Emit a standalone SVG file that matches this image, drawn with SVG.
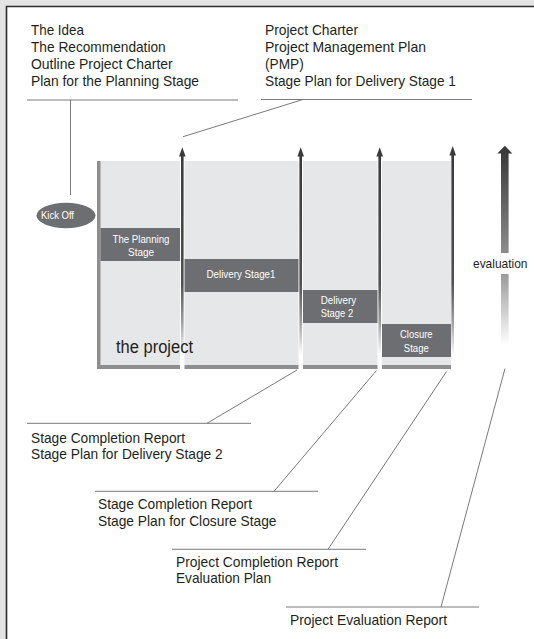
<svg xmlns="http://www.w3.org/2000/svg" width="534" height="639" viewBox="0 0 534 639">
<style>
.t{font-family:"Liberation Sans",Arial,sans-serif;font-size:15px;fill:#231f20}
.w{font-family:"Liberation Sans",Arial,sans-serif;font-size:11px;fill:#ffffff}
.ln{stroke:#7a7a7a;stroke-width:1;fill:none}
.box{fill:#6d6e71}
</style>
<defs>
<linearGradient id="shaft" x1="0" y1="0" x2="0" y2="1">
<stop offset="0" stop-color="#3a3a3a"/>
<stop offset="0.6" stop-color="#505050"/>
<stop offset="0.78" stop-color="#a0a0a0"/>
<stop offset="0.93" stop-color="#ffffff"/>
</linearGradient>
<linearGradient id="evtop" x1="0" y1="0" x2="0" y2="1">
<stop offset="0" stop-color="#3a3a3a"/>
<stop offset="1" stop-color="#8c8c8c"/>
</linearGradient>
<linearGradient id="evbot" x1="0" y1="0" x2="0" y2="1">
<stop offset="0" stop-color="#9a9a9a"/>
<stop offset="1" stop-color="#ffffff"/>
</linearGradient>
</defs>

<rect x="0" y="0" width="534" height="639" fill="#e3e3e3"/>
<rect x="6" y="6" width="528" height="633" fill="#ffffff"/>
<path d="M6.5 639 V6.5 H534" stroke="#2b2b2b" stroke-width="1.6" fill="none"/>

<g id="project">
<rect x="97" y="161" width="355" height="208" fill="#e6e7e8"/>
<rect x="97" y="161" width="3.5" height="208" fill="#8e8e8e"/>
<rect x="97" y="365" width="355" height="4" fill="#8e8e8e"/>
</g>

<g id="planning-stage">
<rect class="box" x="100.5" y="228" width="80" height="33"/>
<text class="w" x="141" y="243.3" text-anchor="middle" textLength="57" lengthAdjust="spacingAndGlyphs">The Planning</text>
<text class="w" x="141" y="256" text-anchor="middle" textLength="26" lengthAdjust="spacingAndGlyphs">Stage</text>
</g>

<g id="delivery-stage-1">
<rect class="box" x="184" y="259" width="115" height="33"/>
<text class="w" x="241" y="278.3" text-anchor="middle" textLength="69" lengthAdjust="spacingAndGlyphs">Delivery Stage1</text>
</g>

<g id="delivery-stage-2">
<rect class="box" x="302" y="290" width="76" height="33"/>
<text class="w" x="320.7" y="303.5" textLength="35.5" lengthAdjust="spacingAndGlyphs">Delivery</text>
<text class="w" x="320.7" y="317" textLength="32.5" lengthAdjust="spacingAndGlyphs">Stage 2</text>
</g>

<g id="closure-stage">
<rect class="box" x="381" y="324" width="70.5" height="33"/>
<text class="w" x="416.3" y="337.5" text-anchor="middle" textLength="32.5" lengthAdjust="spacingAndGlyphs">Closure</text>
<text class="w" x="416.3" y="352" text-anchor="middle" textLength="25" lengthAdjust="spacingAndGlyphs">Stage</text>
</g>

<g id="kick-off">
<ellipse cx="66" cy="215.5" rx="29.5" ry="12.7" fill="#6d6e71"/>
<text class="w" x="41" y="219.4" textLength="33" lengthAdjust="spacingAndGlyphs">Kick Off</text>
</g>

<g id="milestone-arrows">
<rect x="180" y="161" width="4.5" height="209" fill="#ffffff"/>
<rect x="181" y="155" width="2.6" height="215" fill="url(#shaft)"/>
<path d="M182.3 147.3 L185.6 156.5 L179 156.5 Z" fill="#3a3a3a"/>

<rect x="298.5" y="161" width="4.5" height="209" fill="#ffffff"/>
<rect x="299.4" y="155" width="2.6" height="215" fill="url(#shaft)"/>
<path d="M300.7 147.3 L304 156.5 L297.4 156.5 Z" fill="#3a3a3a"/>

<rect x="377.5" y="161" width="4.5" height="209" fill="#ffffff"/>
<rect x="378.4" y="155" width="2.6" height="215" fill="url(#shaft)"/>
<path d="M379.7 147.3 L383 156.5 L376.4 156.5 Z" fill="#3a3a3a"/>

<rect x="451" y="161" width="4" height="209" fill="#ffffff"/>
<rect x="451.4" y="154" width="2.6" height="216" fill="url(#shaft)"/>
<path d="M452.7 146 L456 155.5 L449.4 155.5 Z" fill="#3a3a3a"/>
</g>

<g id="project-label">
<text x="116" y="352.7" style="font-family:'Liberation Sans',Arial,sans-serif;font-size:18px;fill:#231f20" textLength="77" lengthAdjust="spacingAndGlyphs">the project</text>
</g>

<g id="evaluation">
<rect x="501" y="152" width="7.6" height="101" fill="url(#evtop)"/>
<path d="M504.8 145.7 L512.3 153.5 L497.3 153.5 Z" fill="#3a3a3a"/>
<rect x="501" y="274" width="7.6" height="71" fill="url(#evbot)"/>
<text x="473" y="267.5" style="font-family:'Liberation Sans',Arial,sans-serif;font-size:13.5px;fill:#231f20" textLength="54.5" lengthAdjust="spacingAndGlyphs">evaluation</text>
</g>

<g id="label-start">
<text class="t" x="31" y="35" textLength="53" lengthAdjust="spacingAndGlyphs">The Idea</text>
<text class="t" x="31" y="52" textLength="134.7" lengthAdjust="spacingAndGlyphs">The Recommendation</text>
<text class="t" x="31" y="69" textLength="141.7" lengthAdjust="spacingAndGlyphs">Outline Project Charter</text>
<text class="t" x="31" y="86" textLength="168" lengthAdjust="spacingAndGlyphs">Plan for the Planning Stage</text>
</g>

<g id="label-planning-end">
<text class="t" x="265" y="34.5" textLength="93" lengthAdjust="spacingAndGlyphs">Project Charter</text>
<text class="t" x="265" y="51.5" textLength="161" lengthAdjust="spacingAndGlyphs">Project Management Plan</text>
<text class="t" x="265" y="68.5" textLength="38.7" lengthAdjust="spacingAndGlyphs">(PMP)</text>
<text class="t" x="265" y="85.5" textLength="191" lengthAdjust="spacingAndGlyphs">Stage Plan for Delivery Stage 1</text>
</g>

<g id="label-delivery1-end">
<text class="t" x="31" y="442.7" textLength="154" lengthAdjust="spacingAndGlyphs">Stage Completion Report</text>
<text class="t" x="31" y="459.3" textLength="191.7" lengthAdjust="spacingAndGlyphs">Stage Plan for Delivery Stage 2</text>
</g>

<g id="label-delivery2-end">
<text class="t" x="98" y="509.3" textLength="154" lengthAdjust="spacingAndGlyphs">Stage Completion Report</text>
<text class="t" x="98" y="525.5" textLength="178.5" lengthAdjust="spacingAndGlyphs">Stage Plan for Closure Stage</text>
</g>

<g id="label-closure-end">
<text class="t" x="176" y="566.7" textLength="162" lengthAdjust="spacingAndGlyphs">Project Completion Report</text>
<text class="t" x="176" y="583.3" textLength="95" lengthAdjust="spacingAndGlyphs">Evaluation Plan</text>
</g>

<g id="label-evaluation-end">
<text class="t" x="290" y="625" textLength="157" lengthAdjust="spacingAndGlyphs">Project Evaluation Report</text>
</g>

<g id="connectors">
<line class="ln" x1="27" y1="100" x2="238" y2="100"/>
<line class="ln" x1="70.5" y1="100" x2="70.5" y2="195"/>
<line class="ln" x1="261" y1="99.5" x2="472" y2="99.5"/>
<line class="ln" x1="303" y1="99.5" x2="183" y2="136.7"/>
<line class="ln" x1="27" y1="423.3" x2="251" y2="423.3"/>
<line class="ln" x1="207" y1="423.3" x2="297" y2="370"/>
<line class="ln" x1="95" y1="491.3" x2="318" y2="491.3"/>
<line class="ln" x1="274" y1="491.3" x2="376.5" y2="370.5"/>
<line class="ln" x1="172" y1="549.3" x2="366" y2="549.3"/>
<line class="ln" x1="328" y1="549.3" x2="446.5" y2="371.5"/>
<line class="ln" x1="286" y1="607" x2="479" y2="607"/>
<line class="ln" x1="441" y1="607" x2="505" y2="368.5"/>
</g>
</svg>
